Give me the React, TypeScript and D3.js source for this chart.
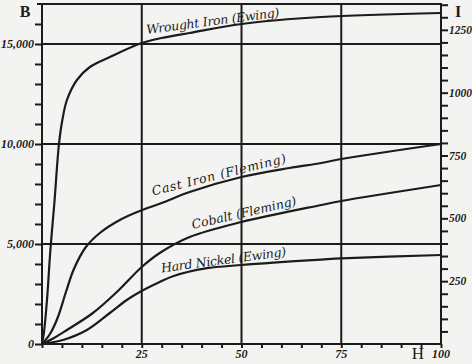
import React, { useEffect, useRef } from 'react'
import * as d3 from 'd3'

// magnetisation curves, H (field) against B (induction)
const wroughtH = [0, 0.5, 1.25, 2.1, 3.1, 4.25, 5.1, 6.25, 8.75, 12, 17, 25, 30, 37, 50, 70, 100]
const wroughtB = [0, 600, 2200, 4700, 7050, 10000, 11200, 12200, 13200, 13850, 14350, 15050, 15300, 15550, 16000, 16350, 16550]

const castH = [0, 2, 4, 6, 8, 11, 14.5, 19.5, 24.5, 30, 37, 50, 62, 70, 75, 100]
const castB = [0, 500, 1350, 2600, 3750, 4850, 5550, 6200, 6650, 7050, 7600, 8350, 8800, 9050, 9250, 10000]

const cobaltH = [0, 3, 6.25, 12.75, 18.75, 25, 29.5, 37, 50, 70, 75, 100]
const cobaltB = [0, 300, 700, 1550, 2600, 3850, 4550, 5350, 6100, 6950, 7150, 7950]

const nickelH = [0, 5.25, 11.25, 17, 21.25, 24.5, 29.5, 33, 41, 50, 58, 70, 75, 100]
const nickelB = [0, 200, 700, 1550, 2200, 2600, 3100, 3400, 3780, 3950, 4070, 4220, 4280, 4450]

const curveNames = ['Wrought Iron (Ewing)', 'Cast Iron (Fleming)', 'Cobalt (Fleming)', 'Hard Nickel (Ewing)']

const bTickLabels = ['0', '5,000', '10,000', '15,000']
const bTickValues = [0, 5000, 10000, 15000]
const hTickValues = [25, 50, 75, 100]
const iTickValues = [250, 500, 750, 1000, 1250]

const ink = '#1b1b1b'

const App = () => {
    const ref = useRef<SVGSVGElement>(null)

    useEffect(() => {
        const svg = d3.select(ref.current)
        svg.selectAll('*').remove()

        const width = 472
        const height = 364
        const left = 42
        const right = 441
        const top = 4
        const bottom = 344

        const x = d3.scaleLinear().domain([0, 100]).range([left, right])
        const y = d3.scaleLinear().domain([0, 17000]).range([bottom, top])
        const yI = d3.scaleLinear().domain([0, 17000 / (4 * Math.PI)]).range([bottom, top])

        svg.append('rect').attr('width', width).attr('height', height).attr('fill', '#f3f3f1')

        const g = svg.append('g').attr('stroke', ink).attr('fill', 'none')

        // grid lines
        g.selectAll('.vgrid')
            .data([25, 50, 75])
            .join('line')
            .attr('x1', d => x(d)).attr('x2', d => x(d))
            .attr('y1', y(17000)).attr('y2', y(0))
            .attr('stroke-width', 2)

        g.selectAll('.hgrid')
            .data([5000, 10000, 15000])
            .join('line')
            .attr('x1', x(0)).attr('x2', x(100))
            .attr('y1', d => y(d)).attr('y2', d => y(d))
            .attr('stroke-width', 2)

        // frame
        g.append('rect')
            .attr('x', x(0)).attr('y', y(17000))
            .attr('width', x(100) - x(0)).attr('height', y(0) - y(17000))
            .attr('stroke-width', 2)
        g.append('line').attr('x1', x(0) - 5).attr('x2', x(0)).attr('y1', y(17000)).attr('y2', y(17000)).attr('stroke-width', 2)

        // left axis ticks, every 1000
        svg.append('g')
            .attr('transform', `translate(${x(0)},0)`)
            .call(d3.axisLeft(y).tickValues(d3.range(0, 17000, 1000)).tickSize(7).tickFormat(() => ''))
            .call(a => a.select('.domain').remove())
            .call(a => a.selectAll('line').attr('stroke', ink).attr('stroke-width', 2))

        // right axis ticks (I), every 50
        svg.append('g')
            .attr('transform', `translate(${x(100)},0)`)
            .call(d3.axisRight(yI).tickValues(d3.range(50, 1355, 50)).tickSize(7).tickFormat(() => ''))
            .call(a => a.select('.domain').remove())
            .call(a => a.selectAll('line').attr('stroke', ink).attr('stroke-width', 2))

        // bottom ticks, every 5
        svg.append('g')
            .attr('transform', `translate(0,${y(0)})`)
            .call(d3.axisBottom(x).tickValues(d3.range(0, 101, 5)).tickSize(4).tickFormat(() => ''))
            .call(a => a.select('.domain').remove())
            .call(a => a.selectAll('line').attr('stroke', ink).attr('stroke-width', 2))

        // curves
        const series = [
            [wroughtH, wroughtB],
            [castH, castB],
            [cobaltH, cobaltB],
            [nickelH, nickelB],
        ]
        const line = d3.line<[number, number]>()
            .x(d => x(d[0]))
            .y(d => y(d[1]))
            .curve(d3.curveCatmullRom.alpha(0.5))

        svg.append('g')
            .selectAll('path')
            .data(series.map(([hs, bs]) => hs.map((h, i) => [h, bs[i]] as [number, number])))
            .join('path')
            .attr('d', line)
            .attr('fill', 'none')
            .attr('stroke', ink)
            .attr('stroke-width', 2.2)

        // curve labels: start of baseline (H, B), angle, length along baseline
        const labelPos = [
            { h: 26.3, b: 15500, a: -7.5, len: 134 },
            { h: 27.8, b: 7420, a: -14, len: 138 },
            { h: 37.8, b: 5750, a: -13, len: 107 },
            { h: 30, b: 3580, a: -7.5, len: 126 },
        ]
        svg.append('g')
            .selectAll('text')
            .data(curveNames)
            .join('text')
            .attr('transform', (d, i) => `translate(${x(labelPos[i].h)},${y(labelPos[i].b)}) rotate(${labelPos[i].a})`)
            .attr('font-family', '"DejaVu Serif", serif')
            .attr('font-style', 'italic')
            .attr('font-size', 12.5)
            .attr('textLength', (d, i) => labelPos[i].len)
            .attr('lengthAdjust', 'spacing')
            .attr('fill', ink)
            .text(d => d)

        // tick labels
        const num = svg.append('g')
            .attr('font-family', '"Liberation Serif", serif')
            .attr('font-style', 'italic')
            .attr('font-weight', 'bold')
            .attr('fill', ink)

        num.selectAll('.bl')
            .data(bTickValues)
            .join('text')
            .attr('x', x(0) - 8)
            .attr('y', d => y(d))
            .attr('dy', '0.35em')
            .attr('text-anchor', 'end')
            .attr('font-size', 12)
            .text((d, i) => bTickLabels[i])

        num.selectAll('.hl')
            .data(hTickValues)
            .join('text')
            .attr('x', d => x(d))
            .attr('y', y(0) + 14)
            .attr('text-anchor', 'middle')
            .attr('font-size', 12)
            .text(d => d)

        num.selectAll('.il')
            .data(iTickValues)
            .join('text')
            .attr('x', x(100) + 8)
            .attr('y', d => yI(d))
            .attr('dy', '0.35em')
            .attr('font-size', 11.5)
            .text(d => d)

        // axis letters
        svg.append('text').attr('x', 25).attr('y', 17).attr('text-anchor', 'middle')
            .attr('font-family', '"Liberation Serif", serif').attr('font-weight', 'bold').attr('font-size', 16)
            .attr('fill', ink).text('B')
        svg.append('text').attr('x', 458).attr('y', 17).attr('text-anchor', 'middle')
            .attr('font-family', '"Liberation Serif", serif').attr('font-weight', 'bold').attr('font-size', 16)
            .attr('fill', ink).text('I')
        svg.append('text').attr('x', 418).attr('y', 359).attr('text-anchor', 'middle')
            .attr('font-family', '"Liberation Serif", serif').attr('font-size', 17)
            .attr('fill', ink).text('H')
    }, [])

    return (
        <svg ref={ref} width={472} height={364}
            style={{ position: 'absolute', left: 0, top: 0, display: 'block' }} />
    )
}

export default App
